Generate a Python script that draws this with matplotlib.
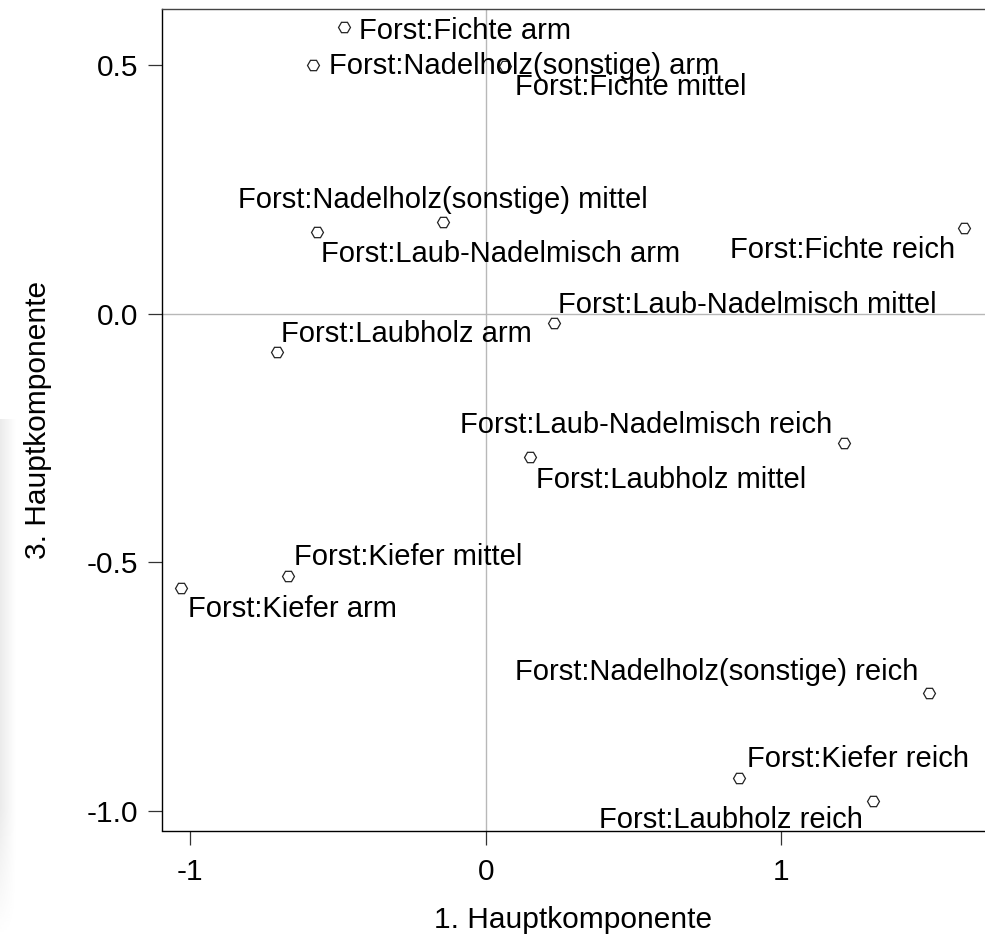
import numpy as np
import matplotlib
matplotlib.use("Agg")
import matplotlib.pyplot as plt

plt.rcParams['font.family'] = ['Liberation Sans', 'DejaVu Sans']

# PCA scores (1st and 3rd component) for the forest categories
labels = [
    "Forst:Fichte arm",
    "Forst:Nadelholz(sonstige) arm",
    "Forst:Fichte mittel",
    "Forst:Nadelholz(sonstige) mittel",
    "Forst:Laub-Nadelmisch arm",
    "Forst:Fichte reich",
    "Forst:Laub-Nadelmisch mittel",
    "Forst:Laubholz arm",
    "Forst:Laub-Nadelmisch reich",
    "Forst:Laubholz mittel",
    "Forst:Kiefer mittel",
    "Forst:Kiefer arm",
    "Forst:Nadelholz(sonstige) reich",
    "Forst:Kiefer reich",
    "Forst:Laubholz reich",
]
pc1 = [-0.481, -0.584, 0.065, -0.145, -0.571, 1.619, 0.231, -0.706,
       1.212, 0.150, -0.669, -1.030, 1.500, 0.857, 1.311]
pc3 = [0.577, 0.500, 0.498, 0.184, 0.164, 0.172, -0.019, -0.077,
       -0.260, -0.288, -0.527, -0.551, -0.763, -0.934, -0.980]

x_ticks = [-1, 0, 1]
y_ticks = [0.5, 0.0, -0.5, -1.0]
y_ticklabels = ["0.5", "0.0", "-0.5", "-1.0"]

# where each label sits relative to its point (pixel offset, alignment)
label_layout = [
    (15, -12, 'left'), (16, -9, 'left'), (10, -29, 'left'),
    (0, 14, 'center'), (4, -30, 'left'), (-9, -30, 'right'),
    (4, 10, 'left'), (4, 10, 'left'), (-12, 10, 'right'),
    (6, -31, 'left'), (6, 11, 'left'), (7, -29, 'left'),
    (-11, 13, 'right'), (8, 11, 'left'), (-10, -27, 'right'),
]

fig = plt.figure(figsize=(9.85, 9.39), dpi=100)

# faint shading along the left edge, fading in from above
shade = fig.add_axes([0, 0, 16 / 985, 520 / 939], zorder=-5)
gx = np.linspace(0.0, 1.0, 64)[None, :]
gy = np.clip(np.linspace(0.0, 1.0, 200) / 0.25, 0, 1)[::-1][:, None]
rgb = 1.0 - 0.08 * (1.0 - gx) * gy
shade.imshow(rgb, aspect='auto', cmap='gray', vmin=0, vmax=1)
shade.axis('off')

ax = fig.add_axes([162 / 985, 108.5 / 939, 823 / 985, 821.5 / 939])
ax.set_xlim(-1.0954, 1.6897)
ax.set_ylim(-1.0392, 0.6127)

ax.axhline(0, color='#b8b8b8', lw=1.0, zorder=1)
ax.axvline(0, color='#b8b8b8', lw=1.0, zorder=1)

ax.plot(pc1, pc3, linestyle='none', marker='H', markersize=8.6,
        mfc='none', mec='#222222', mew=0.9, zorder=3)

for name, x, y, (dx, dy, ha) in zip(labels, pc1, pc3, label_layout):
    ax.annotate(name, (x, y), xytext=(dx, dy), textcoords='offset pixels',
                ha=ha, va='baseline', fontsize=21, color='black', zorder=4)

ax.set_xticks(x_ticks)
ax.set_xticklabels([str(t) for t in x_ticks])
ax.set_yticks(y_ticks)
ax.set_yticklabels(y_ticklabels)
ax.tick_params(axis='both', labelsize=21.5, length=10, width=0.9, color='#333333')
ax.tick_params(axis='x', pad=9.5)
ax.tick_params(axis='y', pad=7)

for side in ['left', 'bottom']:
    ax.spines[side].set_color('black')
    ax.spines[side].set_linewidth(1.0)
ax.spines['top'].set_color('#444444')
ax.spines['top'].set_linewidth(1.0)
ax.spines['right'].set_visible(False)

ax.set_xlabel("1. Hauptkomponente", fontsize=21.5)
ax.xaxis.set_label_coords(0.5, -0.092)
ax.set_ylabel("3. Hauptkomponente", fontsize=21.5)
ax.yaxis.label.set_va('center')
ax.yaxis.set_label_coords(-0.151, 0.5)

fig.savefig("out.png", dpi=100)
